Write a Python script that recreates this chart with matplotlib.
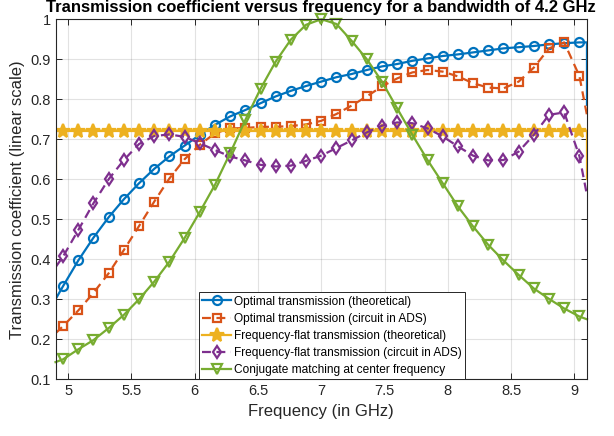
import matplotlib
matplotlib.use('Agg')
import matplotlib.pyplot as plt

plt.rcParams['font.family'] = ['Liberation Sans', 'DejaVu Sans']

# Marker frequencies (GHz), shared by all series
freq = [4.96, 5.08, 5.20, 5.32, 5.44, 5.56, 5.68, 5.80, 5.92, 6.04,
        6.16, 6.28, 6.40, 6.52, 6.64, 6.76, 6.88, 7.00, 7.12, 7.24,
        7.36, 7.48, 7.60, 7.72, 7.84, 7.96, 8.08, 8.20, 8.32, 8.44,
        8.56, 8.68, 8.80, 8.92, 9.04]
f_low, f_high = 4.9, 9.1

opt_theory = [0.333, 0.397, 0.454, 0.505, 0.550, 0.590, 0.626, 0.657, 0.684, 0.711,
              0.736, 0.757, 0.773, 0.790, 0.807, 0.821, 0.833, 0.844, 0.855, 0.863,
              0.873, 0.882, 0.888, 0.896, 0.902, 0.908, 0.912, 0.917, 0.922, 0.927,
              0.930, 0.933, 0.937, 0.940, 0.942]
opt_ads = [0.233, 0.272, 0.316, 0.365, 0.423, 0.483, 0.544, 0.602, 0.650, 0.686,
           0.715, 0.727, 0.728, 0.731, 0.731, 0.733, 0.737, 0.746, 0.763, 0.784,
           0.807, 0.832, 0.852, 0.867, 0.873, 0.869, 0.857, 0.840, 0.829, 0.827,
           0.844, 0.879, 0.927, 0.942, 0.858]
flat_theory = [0.72, 0.72, 0.72, 0.72, 0.72, 0.72, 0.72, 0.72, 0.72, 0.72,
               0.72, 0.72, 0.72, 0.72, 0.72, 0.72, 0.72, 0.72, 0.72, 0.72,
               0.72, 0.72, 0.72, 0.72, 0.72, 0.72, 0.72, 0.72, 0.72, 0.72,
               0.72, 0.72, 0.72, 0.72, 0.72]
flat_ads = [0.407, 0.473, 0.540, 0.600, 0.648, 0.688, 0.708, 0.712, 0.706, 0.690,
            0.673, 0.657, 0.647, 0.636, 0.632, 0.634, 0.646, 0.659, 0.678, 0.697,
            0.717, 0.734, 0.742, 0.740, 0.727, 0.707, 0.682, 0.659, 0.647, 0.648,
            0.669, 0.711, 0.761, 0.767, 0.658]
conjugate = [0.150, 0.175, 0.198, 0.228, 0.261, 0.300, 0.344, 0.394, 0.453, 0.518,
             0.586, 0.665, 0.748, 0.826, 0.894, 0.949, 0.986, 1.000, 0.988, 0.946,
             0.900, 0.844, 0.777, 0.711, 0.648, 0.590, 0.532, 0.482, 0.436, 0.397,
             0.361, 0.327, 0.301, 0.277, 0.257]

# values at the band edges (lines jump there)
edges = {
    'opt_theory': ([0.25, 0.30], [0.942, 0.786]),
    'opt_ads': ([0.215], [0.76]),
    'flat_theory': ([0.60, 0.72], [0.72, 0.60]),
    'flat_ads': ([0.38], [0.56]),
    'conjugate': ([0.143], [0.25]),
}

labels = ['Optimal transmission (theoretical)',
          'Optimal transmission (circuit in ADS)',
          'Frequency-flat transmission (theoretical)',
          'Frequency-flat transmission (circuit in ADS)',
          'Conjugate matching at center frequency']

series = [
    ('opt_theory', opt_theory, '#0072BD', '-', 'o', 6.5, 'none'),
    ('opt_ads', opt_ads, '#D95319', '--', 's', 5.2, 'none'),
    ('flat_theory', flat_theory, '#EDB120', '-', '*', 10.5, '#EDB120'),
    ('flat_ads', flat_ads, '#7E2F8E', '--', 'd', 6.3, 'none'),
    ('conjugate', conjugate, '#77AC30', '-', 'v', 6.8, 'none'),
]

fig = plt.figure(figsize=(6.14, 4.36), dpi=100)
ax = fig.add_axes([0.0904, 0.130, 0.8656, 0.826])

for (key, vals, color, ls, mk, ms, mfc), lab in zip(series, labels):
    left, right = edges[key]
    x = [f_low] * len(left) + freq + [f_high] * len(right)
    y = left + vals + right
    line, = ax.plot(x, y, color=color, linestyle=ls, linewidth=1.6,
                    marker=mk, markersize=ms, markerfacecolor=mfc,
                    markeredgewidth=1.6, markevery=slice(len(left), len(left) + len(freq)),
                    label=lab, clip_on=(key != 'conjugate'))
    if ls == '--':
        line.set_dashes((4, 2.5))

ax.set_xlim(f_low, f_high)
ax.set_ylim(0.1, 1.0)
ax.set_xticks([5, 5.5, 6, 6.5, 7, 7.5, 8, 8.5, 9])
ax.set_xticklabels(['5', '5.5', '6', '6.5', '7', '7.5', '8', '8.5', '9'])
ax.set_yticks([0.1, 0.2, 0.3, 0.4, 0.5, 0.6, 0.7, 0.8, 0.9, 1.0])
ax.set_yticklabels(['0.1', '0.2', '0.3', '0.4', '0.5', '0.6', '0.7', '0.8', '0.9', '1'])
ax.grid(True, color='#262626', alpha=0.13, linewidth=0.8)
ax.tick_params(direction='in', top=True, right=True, labelsize=10.5,
               length=4, width=0.7, colors='#262626')
for s in ax.spines.values():
    s.set_linewidth(0.8)
    s.set_color('#262626')

ax.set_xlabel('Frequency (in GHz)', fontsize=12, color='#262626')
ax.set_ylabel('Transmission coefficient (linear scale)', fontsize=12, color='#262626')
ax.set_title('Transmission coefficient versus frequency for a bandwidth of 4.2 GHz',
             fontsize=12, fontweight='bold', pad=5.5)

leg = ax.legend(loc='lower center', bbox_to_anchor=(0.52, 0.0), borderaxespad=0,
                fontsize=8.6, labelspacing=0.42, handlelength=2.4, handletextpad=0.2,
                borderpad=0.3, fancybox=False, framealpha=1, edgecolor='#262626')
leg.get_frame().set_linewidth(0.7)

fig.savefig('out.png', dpi=100)
